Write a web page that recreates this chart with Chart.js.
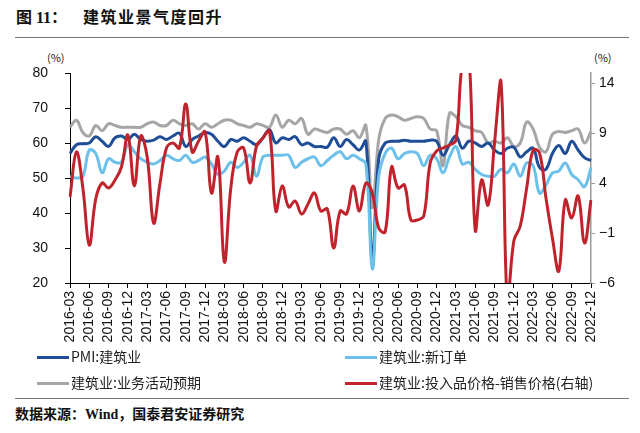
<!DOCTYPE html>
<html>
<head>
<meta charset="utf-8">
<script src="https://cdn.jsdelivr.net/npm/chart.js@4.4.1/dist/chart.umd.min.js"></script>
<style>
  html, body { margin: 0; padding: 0; background: #fff; }
  body { width: 640px; height: 433px; position: relative; overflow: hidden; font-family: "Noto Sans CJK SC", sans-serif; }
  #wrap { position: absolute; left: 0; top: 0; width: 640px; height: 350px; }
  .title { position: absolute; left: 16px; top: 4px; font-size: 16px; font-weight: bold; color: #111; font-family: "Liberation Serif", "Noto Sans CJK SC", serif; }
  .title .t2 { position: absolute; left: 67px; top: 0; white-space: nowrap; letter-spacing: 1.5px; font-family: "Noto Sans CJK SC", sans-serif; }
  .rule { position: absolute; left: 15px; width: 614px; height: 1px; background: #777; }
  .unit { position: absolute; top: 49px; font-size: 11px; color: #222; }
  .leg { position: absolute; font-size: 14px; color: #222; white-space: nowrap; }
  .leg i { display: inline-block; width: 32px; height: 3px; vertical-align: middle; margin-right: 2px; position: relative; top: -1px; }
  .src { position: absolute; left: 15px; top: 403px; font-size: 14px; font-weight: bold; color: #111; font-family: "Liberation Serif", "Noto Sans CJK SC", serif; }
</style>
</head>
<body>
<div class="title">图 11：<span class="t2">建筑业景气度回升</span></div>
<div class="rule" style="top:37px"></div>
<div class="unit" style="left:47px">(%)</div>
<div class="unit" style="left:594px">(%)</div>
<div id="wrap"><canvas id="chart" width="640" height="350"></canvas></div>
<div class="leg" style="left:37px; top:346px"><i style="background:#1f4e96"></i>PMI:建筑业</div>
<div class="leg" style="left:345px; top:346px"><i style="background:#6cc0ea"></i>建筑业:新订单</div>
<div class="leg" style="left:37px; top:372px"><i style="background:#a6a6a6"></i>建筑业:业务活动预期</div>
<div class="leg" style="left:345px; top:372px"><i style="background:#c0232b"></i>建筑业:投入品价格-销售价格(右轴)</div>
<div class="rule" style="top:398px"></div>
<div class="src">数据来源：Wind，国泰君安证券研究</div>

<script>
// monthly categories, 2016-03 .. 2022-12
const months = [];
for (let y = 2016; y <= 2022; y++) {
    for (let m = 1; m <= 12; m++) {
        if (y === 2016 && m < 3) continue;
        months.push(y + '-' + String(m).padStart(2, '0'));
    }
}

// PMI: construction (left axis)
const pmi = [
    57.0, 59.5, 59.8, 60.0, 61.8, 60.5, 59.0, 61.5, 62.0, 61.0,
    62.5, 61.0, 60.5, 60.8, 61.8, 61.0, 62.0, 62.8, 59.0, 61.0,
    62.0, 63.0, 62.5, 60.5, 59.0, 61.0, 60.5, 61.5, 60.5, 59.5,
    61.5, 63.8, 60.0, 61.5, 61.0, 61.8, 59.5, 60.0, 59.0, 59.0,
    58.8, 61.5, 59.0, 61.0, 59.5, 58.0, 60.5, 26.6, 55.5, 60.0,
    60.5, 60.5, 60.8, 60.5, 60.5, 60.5, 60.8, 60.5, 56.5, 59.5,
    62.0, 58.5, 60.5, 60.0, 59.0, 60.0, 58.0, 57.0, 58.5, 58.8,
    56.0, 57.5, 58.5, 53.0, 52.5, 57.0, 59.3, 57.0, 60.5, 58.0,
    55.8, 55.0
];

// construction: new orders (left axis)
const newOrders = [
    50.5, 50.0, 50.5, 58.0, 57.0, 51.5, 55.5, 54.5, 54.5, 59.5,
    57.5, 55.5, 54.5, 54.0, 55.0, 56.5, 55.5, 55.0, 56.5, 54.5,
    55.0, 56.0, 54.0, 51.0, 52.0, 54.5, 53.0, 54.5, 56.5, 50.5,
    56.0, 56.5, 56.5, 56.5, 56.5, 53.0, 54.5, 55.5, 56.0, 53.5,
    55.0, 56.5, 57.5, 55.5, 56.5, 55.5, 54.0, 24.0, 50.5, 57.0,
    58.5, 55.5, 57.0, 57.5, 57.0, 53.5, 56.5, 55.5, 51.5, 56.0,
    59.0, 54.0, 54.5, 52.5, 51.0, 50.5, 50.5, 52.5, 51.5, 54.0,
    50.5, 54.3, 53.5, 45.7, 48.0, 51.4, 52.0, 54.3, 51.0, 49.5,
    47.5, 53.0
];

// construction: business expectations (left axis)
const expect = [
    64.5, 66.5, 63.0, 62.0, 65.0, 63.5, 65.5, 65.0, 64.5, 64.5,
    64.5, 64.5, 65.5, 66.0, 65.0, 65.0, 66.5, 65.5, 65.0, 65.5,
    64.0, 65.5, 64.5, 65.5, 66.5, 66.5, 65.5, 65.0, 64.5, 65.5,
    65.0, 64.5, 68.0, 64.5, 66.5, 65.5, 67.0, 62.5, 64.0, 63.5,
    63.0, 64.0, 64.0, 62.5, 63.5, 61.5, 65.0, 41.5, 61.0, 67.0,
    68.0, 67.5, 66.5, 67.0, 67.5, 67.0, 64.0, 63.5, 53.5, 68.5,
    67.5, 65.0, 64.5, 63.5, 63.0, 60.0, 60.5, 60.0, 61.5, 59.0,
    60.0, 66.0, 64.0, 58.8, 57.5, 62.5, 63.3, 63.0, 63.5, 64.0,
    60.0, 63.3
];

// construction: input price - sale price (right axis)
const priceGap = [
    2.6, 7.1, 3.5, -2.2, 2.4, 4.0, 3.5, 4.3, 5.6, 8.8,
    3.7, 8.7, 6.6, 0.0, 4.0, 7.5, 8.0, 7.5, 11.9, 7.1,
    8.2, 9.1, 3.0, 6.6, -3.9, 3.5, 7.1, 7.5, 4.0, 7.7,
    8.5, 9.2, 1.2, 3.7, 1.6, 2.2, 0.9, 1.9, 3.0, 1.2,
    1.4, -2.5, 1.2, 0.9, 3.7, 1.2, 4.0, 3.0, -0.5, -0.9,
    5.6, 3.5, 3.8, 0.3, 0.3, 0.7, 6.0, 7.2, 7.5, 7.8,
    8.3, 16.0, 17.0, -0.7, 4.3, 1.8, 8.0, 14.2, -8.0, -1.8,
    -0.3, 3.5, 7.3, 7.0, 2.5, -1.5, -4.8, 2.3, 0.5, 2.7,
    -2.0, 2.3
];

const leftTicks = [20, 30, 40, 50, 60, 70, 80];
const rightTicks = [-6, -1, 4, 9, 14];

const tickFont = { family: 'Liberation Sans, Arial, sans-serif', size: 14 };

new Chart(document.getElementById('chart').getContext('2d'), {
    type: 'line',
    data: {
        labels: months,
        datasets: [
            { label: 'PMI:建筑业', data: pmi, borderColor: '#1f4e96', yAxisID: 'y', order: 2 },
            { label: '建筑业:新订单', data: newOrders, borderColor: '#6cc0ea', yAxisID: 'y', order: 1 },
            { label: '建筑业:业务活动预期', data: expect, borderColor: '#a6a6a6', yAxisID: 'y', order: 3 },
            { label: '建筑业:投入品价格-销售价格(右轴)', data: priceGap, borderColor: '#c0232b', yAxisID: 'y2', order: 0 }
        ].map(d => Object.assign(d, { borderWidth: 3, pointRadius: 0, tension: 0.4, fill: false }))
    },
    options: {
        responsive: false,
        animation: false,
        maintainAspectRatio: false,
        layout: { padding: { top: 73, left: 0, right: 0, bottom: 0 } },
        plugins: { legend: { display: false }, tooltip: { enabled: false } },
        scales: {
            x: {
                offset: false,
                border: { color: '#000', width: 1 },
                grid: {
                    drawOnChartArea: false,
                    tickLength: 5,
                    color: ctx => (ctx.index % 3 === 0 ? '#000' : 'rgba(0,0,0,0)')
                },
                ticks: {
                    autoSkip: false,
                    maxRotation: 90,
                    minRotation: 90,
                    padding: 3,
                    color: '#111',
                    font: { family: 'Liberation Sans, Arial, sans-serif', size: 14 },
                    callback: function (v, i) { return i % 3 === 0 ? months[i] : ''; }
                },
                afterFit: s => { s.height = 350 - 283; }
            },
            y: {
                position: 'left',
                min: 20, max: 80,
                border: { color: '#000', width: 1 },
                grid: { drawOnChartArea: false, tickLength: 5, color: '#000' },
                afterBuildTicks: s => { s.ticks = leftTicks.map(v => ({ value: v })); },
                ticks: { color: '#111', font: tickFont, padding: 17 },
                afterFit: s => { s.width = 70; }
            },
            y2: {
                position: 'right',
                min: -6, max: 15,
                border: { color: '#999', width: 1.5 },
                grid: { drawOnChartArea: false, tickLength: 4, color: '#999' },
                afterBuildTicks: s => { s.ticks = rightTicks.map(v => ({ value: v })); },
                ticks: {
                    color: '#111', font: tickFont, padding: 4,
                    callback: v => String(v).replace('-', '\u2212')
                },
                afterFit: s => { s.width = 640 - 591; }
            }
        }
    }
});
</script>
</body>
</html>
